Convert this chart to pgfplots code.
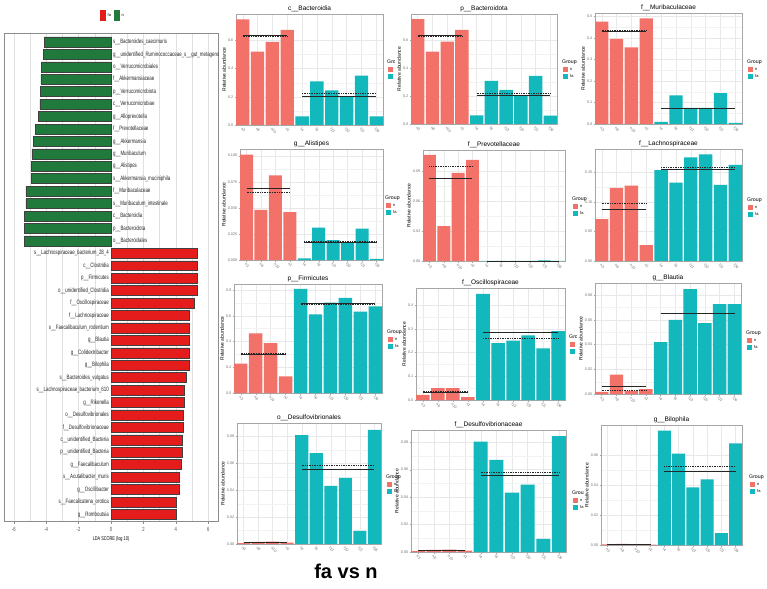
\documentclass[border=0pt]{standalone}
\usepackage{fontspec}
\setmainfont{Liberation Sans}
\newfontfamily\narrowfont[FakeStretch=0.7]{Liberation Sans}
\usepackage{pgfplots}
\pgfplotsset{compat=1.18}
\definecolor{nred}{RGB}{242,114,106}
\definecolor{fteal}{RGB}{18,184,188}
\definecolor{ldared}{RGB}{228,28,28}
\definecolor{ldagreen}{RGB}{32,122,60}
\newcommand\tickfont{\fontsize{3.8}{4}\selectfont}
\newcommand\titfont{\fontsize{6.5}{7}\selectfont}
\newcommand\labfont{\fontsize{5}{6}\selectfont}
\newcommand\legtit{\fontsize{5.2}{6}\selectfont}
\newcommand\legent{\fontsize{4}{5}\selectfont}
\newcommand\ldafont{\narrowfont\fontsize{6.3}{7}\selectfont}
\pgfplotsset{
 panel/.style={scale only axis, anchor=north west, xmin=0.55, xmax=10.45, ymin=0,
   xtick={1,...,10}, xticklabels={n3,n8,n10,n1,f4,f6,f13,f20,f21,f26},
   x tick label style={rotate=-45, anchor=north west, font=\tickfont, text=black!55, inner sep=0.6pt},
   y tick label style={font=\tickfont, text=black!55, inner sep=1pt, /pgf/number format/fixed, /pgf/number format/fixed zerofill},
   scaled y ticks=false,
   /pgf/number format/assume math mode=true,
   ylabel={Relative abundance}, ylabel style={font=\labfont, inner sep=1pt},
   every axis title/.style={at={(0.5,1)}, anchor=south, yshift=1pt, font=\titfont, inner sep=1pt},
   grid=both, minor y tick num=1,
   major grid style={black!9, line width=0.35pt},
   minor grid style={black!5, line width=0.25pt},
   axis line style={black!35, line width=0.5pt},
   tick style={black!35, line width=0.3pt},
   major tick length=1.5pt, minor tick length=0pt,
   tick align=outside, xtick pos=bottom, ytick pos=left,
 },
 nbar/.style={ybar, bar width=0.9, bar shift=0pt, fill=nred, draw=none},
 fbar/.style={ybar, bar width=0.9, bar shift=0pt, fill=fteal, draw=none},
 mline/.style={black!85, line width=0.45pt, mark=none},
 dline/.style={black!85, line width=0.45pt, dash pattern=on 1pt off 0.7pt, mark=none},
}
\newcommand\grp[2]{%
 \node[anchor=west, font=\legtit, inner sep=0pt] at (#1pt,-#2pt) {Group};
 \fill[nred] (#1pt+0.7pt,-#2pt-5pt) rectangle ++(5.3pt,-5.3pt);
 \fill[fteal] (#1pt+0.7pt,-#2pt-11.6pt) rectangle ++(5.3pt,-5.3pt);
 \node[anchor=west, font=\legent, inner sep=0pt] at (#1pt+8pt,-#2pt-7.6pt) {n};
 \node[anchor=west, font=\legent, inner sep=0pt] at (#1pt+8pt,-#2pt-14.3pt) {fa};
}
\begin{document}
\begin{tikzpicture}
\useasboundingbox (0,0) rectangle (767pt,-588pt);
\fill[white] (0,0) rectangle (767pt,-588pt);
% ---------------- LDA panel ----------------
\begin{axis}[scale only axis, anchor=south west, at={(4pt,-521pt)}, width=214pt, height=488pt,
 xmin=-6.6, xmax=6.6, ymin=0.47, ymax=39.72,
 xtick={-6,-4,...,6}, minor xtick={-5,-3,...,5}, xmajorgrids, xminorgrids,
 major grid style={black!12,line width=0.4pt}, minor grid style={black!12, line width=0.4pt},
 ytick=\empty, axis line style={black!45, line width=0.6pt},
 tick style={black!45}, xtick pos=bottom, tick align=outside, major tick length=3pt, minor tick length=0pt,
 x tick label style={font=\narrowfont\fontsize{6}{6}\selectfont, text=black!70},
 xlabel={LDA SCORE (log 10)}, xlabel style={font=\narrowfont\fontsize{5.5}{6}\selectfont, inner sep=1pt},
 /pgf/number format/assume math mode=true, clip=false]
\addplot[xbar, bar width=0.8, bar shift=0pt, fill=ldagreen, draw=black!75, line width=0.5pt] coordinates {
(-4.12,39)(-4.18,38)(-4.28,37)(-4.32,36)(-4.34,35)(-4.38,34)(-4.46,33)(-4.65,32)(-4.80,31)(-4.88,30)(-4.90,29)(-4.92,28)(-5.25,27)(-5.25,26)(-5.33,25)(-5.33,24)(-5.35,23)};
\addplot[xbar, bar width=0.8, bar shift=0pt, fill=ldared, draw=black!75, line width=0.5pt] coordinates {
(5.35,22)(5.35,21)(5.33,20)(5.31,19)(5.12,18)(4.84,17)(4.84,16)(4.84,15)(4.84,14)(4.82,13)(4.67,12)(4.51,11)(4.49,10)(4.44,9)(4.44,8)(4.42,7)(4.42,6)(4.32,5)(4.20,4)(4.18,3)(4.05,2)(4.03,1)};
\begin{scope}[every node/.style={font=\ldafont, inner sep=0pt, text=black!85}]
\node[anchor=west] at (axis cs:0.12,39) {s\_\_Bacteroides\_caecimuris};
\node[anchor=west] at (axis cs:0.12,38) {g\_\_unidentified\_Ruminococcaceae\_s\_\_gut\_metagenome};
\node[anchor=west] at (axis cs:0.12,37) {o\_\_Verrucomicrobiales};
\node[anchor=west] at (axis cs:0.12,36) {f\_\_Akkermansiaceae};
\node[anchor=west] at (axis cs:0.12,35) {p\_\_Verrucomicrobiota};
\node[anchor=west] at (axis cs:0.12,34) {c\_\_Verrucomicrobiae};
\node[anchor=west] at (axis cs:0.12,33) {g\_\_Alloprevotella};
\node[anchor=west] at (axis cs:0.12,32) {f\_\_Prevotellaceae};
\node[anchor=west] at (axis cs:0.12,31) {g\_\_Akkermansia};
\node[anchor=west] at (axis cs:0.12,30) {g\_\_Muribaculum};
\node[anchor=west] at (axis cs:0.12,29) {g\_\_Alistipes};
\node[anchor=west] at (axis cs:0.12,28) {s\_\_Akkermansia\_muciniphila};
\node[anchor=west] at (axis cs:0.12,27) {f\_\_Muribaculaceae};
\node[anchor=west] at (axis cs:0.12,26) {s\_\_Muribaculum\_intestinale};
\node[anchor=west] at (axis cs:0.12,25) {c\_\_Bacteroidia};
\node[anchor=west] at (axis cs:0.12,24) {p\_\_Bacteroidota};
\node[anchor=west] at (axis cs:0.12,23) {o\_\_Bacteroidales};
\node[anchor=east] at (axis cs:-0.12,22) {s\_\_Lachnospiraceae\_bacterium\_28\_4};
\node[anchor=east] at (axis cs:-0.12,21) {c\_\_Clostridia};
\node[anchor=east] at (axis cs:-0.12,20) {p\_\_Firmicutes};
\node[anchor=east] at (axis cs:-0.12,19) {o\_\_unidentified\_Clostridia};
\node[anchor=east] at (axis cs:-0.12,18) {f\_\_Oscillospiraceae};
\node[anchor=east] at (axis cs:-0.12,17) {f\_\_Lachnospiraceae};
\node[anchor=east] at (axis cs:-0.12,16) {s\_\_Faecalibaculum\_rodentium};
\node[anchor=east] at (axis cs:-0.12,15) {g\_\_Blautia};
\node[anchor=east] at (axis cs:-0.12,14) {g\_\_Colidextribacter};
\node[anchor=east] at (axis cs:-0.12,13) {g\_\_Bilophila};
\node[anchor=east] at (axis cs:-0.12,12) {s\_\_Bacteroides\_vulgatus};
\node[anchor=east] at (axis cs:-0.12,11) {s\_\_Lachnospiraceae\_bacterium\_610};
\node[anchor=east] at (axis cs:-0.12,10) {g\_\_Rikenella};
\node[anchor=east] at (axis cs:-0.12,9) {o\_\_Desulfovibrionales};
\node[anchor=east] at (axis cs:-0.12,8) {f\_\_Desulfovibrionaceae};
\node[anchor=east] at (axis cs:-0.12,7) {c\_\_unidentified\_Bacteria};
\node[anchor=east] at (axis cs:-0.12,6) {p\_\_unidentified\_Bacteria};
\node[anchor=east] at (axis cs:-0.12,5) {g\_\_Faecalibaculum};
\node[anchor=east] at (axis cs:-0.12,4) {s\_\_Acutalibacter\_muris};
\node[anchor=east] at (axis cs:-0.12,3) {g\_\_Oscillibacter};
\node[anchor=east] at (axis cs:-0.12,2) {s\_\_Faecalicatena\_orotica};
\node[anchor=east] at (axis cs:-0.12,1) {g\_\_Romboutsia};
\end{scope}
\end{axis}
\fill[ldared] (100pt,-10pt) rectangle (106pt,-21pt);
\node[anchor=west, font=\legent, inner sep=0pt] at (107.5pt,-15.5pt) {fa};
\fill[ldagreen] (114pt,-10pt) rectangle (120pt,-21pt);
\node[anchor=west, font=\legent, inner sep=0pt] at (121.5pt,-15.5pt) {n};
\fill[white] (218.9pt,-47pt) rectangle (234pt,-62pt);
% ---------------- Row 1 ----------------
\begin{axis}[panel, at={(236pt,-14pt)}, width=147pt, height=111pt, ymax=0.7875,
 ytick={0,0.2,0.4,0.6}, y tick label style={/pgf/number format/precision=1}, title={c\_\_Bacteroidia}]
\addplot[nbar] coordinates {(1,0.750)(2,0.520)(3,0.590)(4,0.675)};
\addplot[fbar] coordinates {(5,0.062)(6,0.310)(7,0.245)(8,0.205)(9,0.350)(10,0.062)};
\addplot[mline] coordinates {(1,0.634)(4,0.634)};
\addplot[dline] coordinates {(1,0.632)(4,0.632)};
\addplot[mline] coordinates {(5,0.206)(10,0.206)};
\addplot[dline] coordinates {(5,0.225)(10,0.225)};
\end{axis}
\grp{387}{62}
\fill[white] (395pt,-55pt) rectangle (406pt,-82pt);
\begin{axis}[panel, at={(411pt,-14pt)}, width=146pt, height=110pt, ymax=0.785,
 ytick={0,0.2,0.4,0.6}, y tick label style={/pgf/number format/precision=1}, title={p\_\_Bacteroidota}]
\addplot[nbar] coordinates {(1,0.748)(2,0.516)(3,0.588)(4,0.671)};
\addplot[fbar] coordinates {(5,0.062)(6,0.307)(7,0.243)(8,0.202)(9,0.343)(10,0.060)};
\addplot[mline] coordinates {(1,0.631)(4,0.631)};
\addplot[dline] coordinates {(1,0.629)(4,0.629)};
\addplot[mline] coordinates {(5,0.203)(10,0.203)};
\addplot[dline] coordinates {(5,0.223)(10,0.223)};
\end{axis}
\grp{562}{62}
\begin{axis}[panel, at={(595pt,-13pt)}, width=147pt, height=111pt, ymax=0.5145,
 ytick={0,0.1,0.2,0.3,0.4,0.5}, y tick label style={/pgf/number format/precision=1}, title={f\_\_Muribaculaceae}]
\addplot[nbar] coordinates {(1,0.475)(2,0.395)(3,0.355)(4,0.490)};
\addplot[fbar] coordinates {(5,0.010)(6,0.133)(7,0.075)(8,0.075)(9,0.143)(10,0.005)};
\addplot[mline] coordinates {(1,0.429)(4,0.429)};
\addplot[dline] coordinates {(1,0.435)(4,0.435)};
\addplot[mline] coordinates {(5,0.0735)(10,0.0735)};
\addplot[dline] coordinates {(5,0.075)(10,0.075)};
\end{axis}
\grp{747}{62}
% ---------------- Row 2 ----------------
\begin{axis}[panel, at={(240pt,-149pt)}, width=143pt, height=111pt, ymax=0.1064,
 ytick={0,0.025,0.05,0.075,0.1}, y tick label style={/pgf/number format/precision=3}, title={g\_\_Alistipes}]
\addplot[nbar] coordinates {(1,0.101)(2,0.048)(3,0.081)(4,0.046)};
\addplot[fbar] coordinates {(5,0.0015)(6,0.031)(7,0.019)(8,0.017)(9,0.030)(10,0.001)};
\addplot[mline] coordinates {(1,0.069)(4,0.069)};
\addplot[dline] coordinates {(1,0.0645)(4,0.0645)};
\addplot[mline] coordinates {(5,0.0166)(10,0.0166)};
\addplot[dline] coordinates {(5,0.018)(10,0.018)};
\end{axis}
\grp{385}{198}
\begin{axis}[panel, at={(595pt,-149pt)}, width=147pt, height=112pt, ymax=0.19, ylabel={},
 ytick={0,0.05,0.1,0.15}, y tick label style={/pgf/number format/precision=2}, title={f\_\_Lachnospiraceae}]
\addplot[nbar] coordinates {(1,0.071)(2,0.124)(3,0.128)(4,0.027)};
\addplot[fbar] coordinates {(5,0.154)(6,0.133)(7,0.176)(8,0.181)(9,0.129)(10,0.163)};
\addplot[mline] coordinates {(1,0.0875)(4,0.0875)};
\addplot[dline] coordinates {(1,0.0975)(4,0.0975)};
\addplot[mline] coordinates {(5,0.156)(10,0.156)};
\addplot[dline] coordinates {(5,0.1585)(10,0.1585)};
\end{axis}
\grp{747}{200}
\begin{axis}[panel, at={(423pt,-150pt)}, width=142pt, height=111pt, ymax=0.111,
 ytick={0,0.03,0.06,0.09}, y tick label style={/pgf/number format/precision=2}, title={f\_\_Prevotellaceae}]
\addplot[nbar] coordinates {(1,0.106)(2,0.035)(3,0.088)(4,0.101)};
\addplot[fbar] coordinates {(5,0.0001)(6,0.0001)(7,0.0001)(8,0.0001)(9,0.0007)(10,0.0001)};
\addplot[mline] coordinates {(1,0.0825)(4,0.0825)};
\addplot[dline] coordinates {(1,0.0945)(4,0.0945)};
\addplot[mline] coordinates {(5,0.0002)(10,0.0002)};
\addplot[dline] coordinates {(5,0.0001)(10,0.0001)};
\end{axis}
\grp{572}{199}
% ---------------- Row 3 ----------------
\begin{axis}[panel, at={(234pt,-284pt)}, width=148pt, height=109pt, ymax=0.846,
 ytick={0,0.2,0.4,0.6,0.8}, y tick label style={/pgf/number format/precision=1}, title={p\_\_Firmicutes}]
\addplot[nbar] coordinates {(1,0.229)(2,0.462)(3,0.387)(4,0.130)};
\addplot[fbar] coordinates {(5,0.808)(6,0.610)(7,0.701)(8,0.738)(9,0.631)(10,0.673)};
\addplot[mline] coordinates {(1,0.302)(4,0.302)};
\addplot[dline] coordinates {(1,0.308)(4,0.308)};
\addplot[mline] coordinates {(5,0.694)(10,0.694)};
\addplot[dline] coordinates {(5,0.687)(10,0.687)};
\end{axis}
\grp{387}{332}
\begin{axis}[panel, at={(416pt,-288pt)}, width=149pt, height=112pt, ymax=0.472,
 ytick={0,0.1,0.2,0.3,0.4}, y tick label style={/pgf/number format/precision=1}, title={f\_\_Oscillospiraceae}]
\addplot[nbar] coordinates {(1,0.022)(2,0.050)(3,0.050)(4,0.012)};
\addplot[fbar] coordinates {(5,0.447)(6,0.240)(7,0.250)(8,0.272)(9,0.218)(10,0.290)};
\addplot[mline] coordinates {(1,0.0335)(4,0.0335)};
\addplot[dline] coordinates {(1,0.036)(4,0.036)};
\addplot[mline] coordinates {(5,0.286)(10,0.286)};
\addplot[dline] coordinates {(5,0.261)(10,0.261)};
\end{axis}
\grp{569}{337}
\fill[white] (577pt,-330pt) rectangle (590pt,-356pt);
\begin{axis}[panel, at={(595pt,-283pt)}, width=146pt, height=111pt, ymax=0.0897,
 ytick={0,0.02,0.04,0.06,0.08}, y tick label style={/pgf/number format/precision=2}, title={g\_\_Blautia}]
\addplot[nbar] coordinates {(1,0.0018)(2,0.0156)(3,0.0025)(4,0.0040)};
\addplot[fbar] coordinates {(5,0.042)(6,0.060)(7,0.0848)(8,0.0573)(9,0.0727)(10,0.0727)};
\addplot[mline] coordinates {(1,0.0060)(4,0.0060)};
\addplot[dline] coordinates {(1,0.0033)(4,0.0033)};
\addplot[mline] coordinates {(5,0.0649)(10,0.0649)};
\addplot[dline] coordinates {(5,0.0655)(10,0.0655)};
\end{axis}
\grp{746}{333}
% ---------------- Row 4 ----------------
\begin{axis}[panel, at={(237pt,-423pt)}, width=144pt, height=121pt, ymax=0.090,
 ytick={0,0.02,0.04,0.06,0.08}, y tick label style={/pgf/number format/precision=2}, title={o\_\_Desulfovibrionales}]
\addplot[nbar] coordinates {(1,0.0006)(2,0.0016)(3,0.0017)(4,0.0010)};
\addplot[fbar] coordinates {(5,0.0810)(6,0.0676)(7,0.0432)(8,0.0492)(9,0.0097)(10,0.0849)};
\addplot[mline] coordinates {(1,0.0012)(4,0.0012)};
\addplot[dline] coordinates {(1,0.0013)(4,0.0013)};
\addplot[mline] coordinates {(5,0.0559)(10,0.0559)};
\addplot[dline] coordinates {(5,0.0584)(10,0.0584)};
\end{axis}
\grp{386}{477}
\begin{axis}[panel, at={(411pt,-430pt)}, width=155pt, height=122pt, ymax=0.0889,
 ytick={0,0.02,0.04,0.06,0.08}, y tick label style={/pgf/number format/precision=2}, title={f\_\_Desulfovibrionaceae}]
\addplot[nbar] coordinates {(1,0.0006)(2,0.0016)(3,0.0017)(4,0.0010)};
\addplot[fbar] coordinates {(5,0.0805)(6,0.0672)(7,0.0432)(8,0.0491)(9,0.0096)(10,0.0845)};
\addplot[mline] coordinates {(1,0.0012)(4,0.0012)};
\addplot[dline] coordinates {(1,0.0013)(4,0.0013)};
\addplot[mline] coordinates {(5,0.0557)(10,0.0557)};
\addplot[dline] coordinates {(5,0.0581)(10,0.0581)};
\end{axis}
\grp{572}{493}
\fill[white] (584pt,-486pt) rectangle (596pt,-512pt);
\begin{axis}[panel, at={(601pt,-425pt)}, width=141pt, height=120pt, ymax=0.080,
 ytick={0,0.02,0.04,0.06}, y tick label style={/pgf/number format/precision=2}, title={g\_\_Bilophila}]
\addplot[nbar] coordinates {(1,0.0004)(2,0.0008)(3,0.0005)(4,0.0003)};
\addplot[fbar] coordinates {(5,0.0763)(6,0.0610)(7,0.0384)(8,0.0437)(9,0.0080)(10,0.0678)};
\addplot[mline] coordinates {(1,0.0005)(4,0.0005)};
\addplot[dline] coordinates {(1,0.0006)(4,0.0006)};
\addplot[mline] coordinates {(5,0.0492)(10,0.0492)};
\addplot[dline] coordinates {(5,0.0524)(10,0.0524)};
\end{axis}
\grp{749}{477}
\node[font=\bfseries\fontsize{20}{20}\selectfont, inner sep=0pt] at (346pt,-571pt) {fa vs n};
\end{tikzpicture}
\end{document}
